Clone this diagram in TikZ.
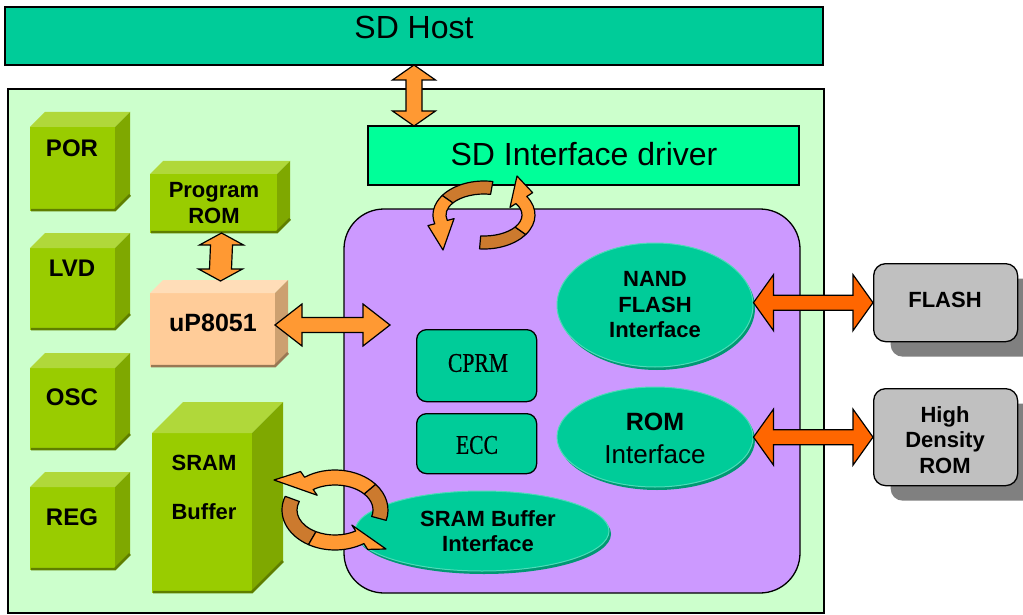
\documentclass[tikz,border=0pt]{standalone}
\usepackage{fontspec}
\setmainfont{Liberation Sans}
\newfontfamily\cserif[FakeStretch=0.8,FakeBold=0.6]{Liberation Serif}
\usetikzlibrary{calc,shapes.geometric,shadows}
\definecolor{hostc}{HTML}{00CC99}
\definecolor{drvc}{HTML}{00FF99}
\definecolor{chipc}{HTML}{CCFFCC}
\definecolor{corec}{HTML}{CC99FF}
\definecolor{ellc}{HTML}{00CC99}
\definecolor{ellsh}{HTML}{009973}
\definecolor{ellrim}{HTML}{4DDBB8}
\definecolor{orng}{HTML}{FF9933}
\definecolor{brwn}{HTML}{CC7A2E}
\definecolor{redo}{HTML}{FF6600}
\definecolor{grayc}{HTML}{C0C0C0}
\definecolor{graysh}{HTML}{808080}
\definecolor{gfront}{HTML}{99CC00}
\definecolor{gtop}{HTML}{B0D83A}
\definecolor{gside}{HTML}{7FA800}
\definecolor{pfront}{HTML}{FFCC99}
\definecolor{ptop}{HTML}{FFDDB8}
\definecolor{pside}{HTML}{CCA070}
\tikzset{
  bx/.style={draw=black, line width=1.3pt, inner sep=0pt, outer sep=0pt},
  f32/.style={font=\fontsize{32}{38}\selectfont, inner sep=0pt},
  f26/.style={font=\fontsize{26}{30}\selectfont, inner sep=0pt},
  f25b/.style={font=\fontsize{25}{30}\selectfont\bfseries, inner sep=0pt},
  f24b/.style={font=\fontsize{24}{28}\selectfont\bfseries, inner sep=0pt},
  f22b/.style={font=\fontsize{22}{25.5}\selectfont\bfseries, inner sep=0pt, align=center},
  serifl/.style={font=\fontsize{27}{30}\selectfont\cserif, inner sep=0pt},
  ell/.style={ellipse, fill=ellc, draw=ellrim, line width=1pt, inner sep=0pt,
    drop shadow={shadow xshift=2pt, shadow yshift=-3pt, fill=ellsh, opacity=1}},
  gbox/.style={rectangle, rounded corners=12pt, fill=grayc, draw=black, line width=1.3pt, inner sep=0pt,
    drop shadow={shadow xshift=17pt, shadow yshift=-15pt, fill=graysh, opacity=1}},
  ibox/.style={rectangle, rounded corners=10pt, fill=ellc, draw=black, line width=1.3pt, inner sep=0pt},
  arr/.style={draw=black, line width=1.2pt, line join=miter},
  curl/.style={draw=black, line width=1.2pt, line join=round},
}
% cube: name x y w h d front top side
\newcommand\cubebox[9]{%
  \node[fill=#7, draw=none, inner sep=0pt, outer sep=0pt, minimum width=#4, minimum height=#5, anchor=north west] (#1) at (#2,#3) {};
  \fill[#8] (#1.north west) -- ++(#6,-#6) -- ($(#1.north east)+(#6,-#6)$) -- (#1.north east) -- cycle;
  \fill[#9] (#1.north east) -- ++(#6,-#6) -- ($(#1.south east)+(#6,-#6)$) -- (#1.south east) -- cycle;
  \draw[line width=2.5pt, #9!75!black] ($(#1.south west)+(1,-1)$) -- ($(#1.south east)+(0,-1)$) -- ($(#1.south east)+(#6,-#6)+(0,-1)$);
}
% horizontal double arrow: A(left tip) B(right tip) halfshaft halfhead headlen colour
\newcommand\hdarr[6]{%
  \filldraw[arr, fill=#6] (#1) -- ($(#1)+(#5,#4)$) -- ($(#1)+(#5,#3)$) -- ($(#2)+(-#5,#3)$) -- ($(#2)+(-#5,#4)$) -- (#2)
   -- ($(#2)+(-#5,-#4)$) -- ($(#2)+(-#5,-#3)$) -- ($(#1)+(#5,-#3)$) -- ($(#1)+(#5,-#4)$) -- cycle;}
% vertical double arrow: A(top tip) B(bottom tip)
\newcommand\vdarr[6]{%
  \filldraw[arr, fill=#6] (#1) -- ($(#1)+(#4,#5)$) -- ($(#1)+(#3,#5)$) -- ($(#2)+(#3,-#5)$) -- ($(#2)+(#4,-#5)$) -- (#2)
   -- ($(#2)+(-#4,-#5)$) -- ($(#2)+(-#3,-#5)$) -- ($(#1)+(-#3,#5)$) -- ($(#1)+(-#4,#5)$) -- cycle;}
% curved band: cx cy rx ry w a1 a2 colour
\newcommand\curlband[8]{%
  \begin{scope}[shift={(#1,#2)}]
  \filldraw[curl, fill=#8] ({(#3)*cos(#6)},{(#4)*sin(#6)}) arc[start angle=#6, end angle=#7, x radius=#3, y radius=#4]
    -- ({(#3-#5)*cos(#7)},{(#4-#5)*sin(#7)}) arc[start angle=#7, end angle=#6, x radius=#3-#5, y radius=#4-#5] -- cycle;
  \end{scope}}
% curved arrow with head: cx cy rx ry w a1 a2 tipdx tipdy
\newcommand\curlhead[9]{%
  \begin{scope}[shift={(#1,#2)}]
  \filldraw[curl, fill=orng] ({(#3)*cos(#6)},{(#4)*sin(#6)}) arc[start angle=#6, end angle=#7, x radius=#3, y radius=#4]
    -- ({(#3+7)*cos(#7)},{(#4+7)*sin(#7)}) -- (#8,#9) -- ({(#3-#5-7)*cos(#7)},{(#4-#5-7)*sin(#7)})
    -- ({(#3-#5)*cos(#7)},{(#4-#5)*sin(#7)}) arc[start angle=#7, end angle=#6, x radius=#3-#5, y radius=#4-#5] -- cycle;
  \end{scope}}
\begin{document}
\begin{tikzpicture}[x=1pt,y=-1pt]
\useasboundingbox[fill=white] (0,0) rectangle (1023,615);
% host and chip
\node[bx, fill=hostc, minimum width=818, minimum height=58, anchor=north west] (host) at (5,7) {};
\node[f32] (hostlbl) at (414,27) {SD Host};
\node[bx, fill=chipc, minimum width=816, minimum height=524, anchor=north west] (chip) at (8,89) {};
\node[bx, fill=corec, rounded corners=40pt, minimum width=456, minimum height=384, anchor=north west] (core) at (344,209) {};
\node[bx, fill=drvc, minimum width=431, minimum height=59, anchor=north west] (drv) at (368,126) {};
\node[f32] (drvlbl) at (584,154) {SD Interface driver};
% green cubes
\cubebox{por}{30}{127}{85}{84}{15}{gfront}{gtop}{gside}
\node[f24b] (porl) at (72,148) {POR};
\cubebox{lvd}{30}{248}{85}{82}{15}{gfront}{gtop}{gside}
\node[f24b] (lvdl) at (72,268) {LVD};
\cubebox{osc}{30}{368}{85}{82}{15}{gfront}{gtop}{gside}
\node[f24b] (oscl) at (72,397) {OSC};
\cubebox{reg}{30}{487}{85}{83}{15}{gfront}{gtop}{gside}
\node[f24b] (regl) at (72,517) {REG};
\cubebox{prog}{150}{174}{127}{59}{13}{gfront}{gtop}{gside}
\node[f22b] (progl) at (214,203) {Program\\ROM};
\cubebox{up}{150}{293}{125}{74}{13}{pfront}{ptop}{pside}
\node[f25b] (upl) at (213,323) {uP8051};
\cubebox{sram}{152}{433}{100}{160}{31}{gfront}{gtop}{gside}
\node[f22b] (sraml) at (204,463) {SRAM};
\node[f22b] (bufl) at (204,512) {Buffer};
% core blocks
\node[ibox, minimum width=120, minimum height=72, anchor=north west] (cprm) at (416,329) {};
\node[serifl] (cprml) at (478,363) {CPRM};
\node[ibox, minimum width=120, minimum height=60, anchor=north west] (ecc) at (416,413) {};
\node[serifl] (eccl) at (477,445) {ECC};
\node[ell, minimum width=196, minimum height=124] (nand) at (655,305) {};
\node[f22b] (nandl) at (655,305) {NAND\\FLASH\\Interface};
\node[ell, minimum width=196, minimum height=100] (rom) at (655,437) {};
\node[f25b] (roml1) at (655,422) {ROM};
\node[f26] (roml2) at (655,454) {Interface};
\node[ell, minimum width=254, minimum height=80] (sramif) at (482,531) {};
\node[f22b] (sramifl) at (488,531) {SRAM Buffer\\Interface};
% external memories
\node[gbox, minimum width=144, minimum height=78, anchor=north west] (flash) at (873,263) {};
\node[f22b] (flashl) at (945,300) {FLASH};
\node[gbox, minimum width=144, minimum height=97, anchor=north west] (hd) at (873,388) {};
\node[f22b] (hdl) at (945,440) {High\\Density\\ROM};
% straight double arrows
\vdarr{host.south}{host.south |- drv.north}{8}{21.5}{15}{orng}
\vdarr{$(prog.south)+(8,0)$}{$(up.north)+(8,-12)$}{11}{22}{12}{orng}
\coordinate (upend) at (390,325);
\hdarr{up.east |- upend}{upend}{7.5}{21}{27}{orng}
\hdarr{nand.east |- flash.west}{flash.west}{7.5}{28}{20}{redo}
\hdarr{rom.east |- hd.west}{hd.west}{7.5}{28}{20}{redo}
% curly arrows near the driver
\curlband{484}{215}{51}{34}{13}{280}{215}{brwn}
\curlhead{484}{215}{51}{34}{13}{215}{165}{-41}{35}
\curlband{484}{215}{51}{34}{13}{95}{35}{brwn}
\curlhead{484}{215}{51}{34}{13}{35}{-33}{33}{-39}
% curly arrows near the SRAM buffer
\curlband{335}{510}{53}{40}{15}{200}{120}{brwn}
\curlhead{335}{510}{53}{40}{15}{120}{57}{51}{39}
\curlband{335}{510}{53}{40}{15}{15}{-40}{brwn}
\curlhead{335}{510}{53}{40}{15}{-40}{-125}{-61}{-30}
\end{tikzpicture}
\end{document}
